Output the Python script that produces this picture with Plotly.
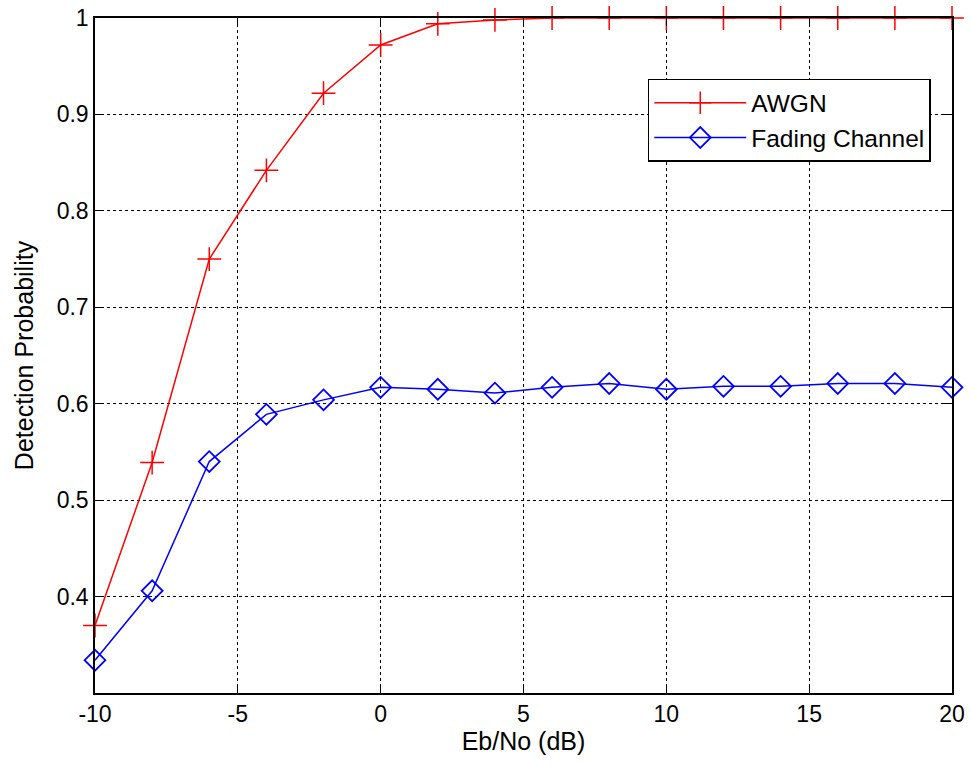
import plotly.graph_objects as go

ebno = [-10, -8, -6, -4, -2, 0, 2, 4, 6, 8, 10, 12, 14, 16, 18, 20]
awgn = [0.370, 0.539, 0.750, 0.842, 0.922, 0.972, 0.994, 0.998, 1.0, 1.0, 1.0, 1.0, 1.0, 1.0, 1.0, 1.0]
fading = [0.334, 0.406, 0.540, 0.589, 0.604, 0.617, 0.615, 0.611, 0.617, 0.621, 0.615, 0.618, 0.618, 0.621, 0.621, 0.617]

xticks = [-10, -5, 0, 5, 10, 15, 20]
xticktext = ["-10", "-5", "0", "5", "10", "15", "20"]
yticks = [0.4, 0.5, 0.6, 0.7, 0.8, 0.9, 1.0]
yticktext = ["0.4", "0.5", "0.6", "0.7", "0.8", "0.9", "1"]

FONT = "Liberation Sans, Arial, sans-serif"

fig = go.Figure()
fig.add_trace(go.Scatter(
    x=ebno, y=awgn, name="AWGN", mode="lines+markers", cliponaxis=False,
    line=dict(color="#ff0000", width=1.5),
    marker=dict(symbol="cross-thin", size=17, line=dict(color="#ff0000", width=1.5)),
))
fig.add_trace(go.Scatter(
    x=ebno, y=fading, name="Fading Channel", mode="lines+markers", cliponaxis=False,
    line=dict(color="#0000ff", width=1.5),
    marker=dict(symbol="diamond-open", size=16, color="#0000ff", line=dict(color="#0000ff", width=1.8)),
))

axis_common = dict(
    showline=True, linecolor="black", linewidth=1.5, mirror="ticks",
    ticks="inside", ticklen=8, tickcolor="black", tickwidth=1,
    showgrid=True, gridcolor="black", griddash="dot", gridwidth=1,
    zeroline=False, automargin=False,
    tickfont=dict(family=FONT, size=23, color="black"),
)

fig.update_xaxes(range=[-10, 20], tickvals=xticks, ticktext=xticktext,
                 title=dict(text="Eb/No (dB)", font=dict(family=FONT, size=25, color="black"), standoff=6),
                 **axis_common)
fig.update_yaxes(range=[0.3, 1.0], tickvals=yticks, ticktext=yticktext,
                 title=dict(text="Detection Probability", font=dict(family=FONT, size=25, color="black"), standoff=16),
                 **axis_common)

fig.update_layout(
    width=971, height=764,
    margin=dict(l=95, r=19, t=18, b=71),
    plot_bgcolor="white", paper_bgcolor="white",
    font=dict(family=FONT, color="black"),
    legend=dict(
        x=0.645, y=0.91, xanchor="left", yanchor="top",
        bgcolor="white", bordercolor="black", borderwidth=1.5,
        font=dict(family=FONT, size=24.5, color="black"),
        itemwidth=92, entrywidth=285, entrywidthmode="pixels",
    ),
    showlegend=True,
)

fig.write_html("out.html")
